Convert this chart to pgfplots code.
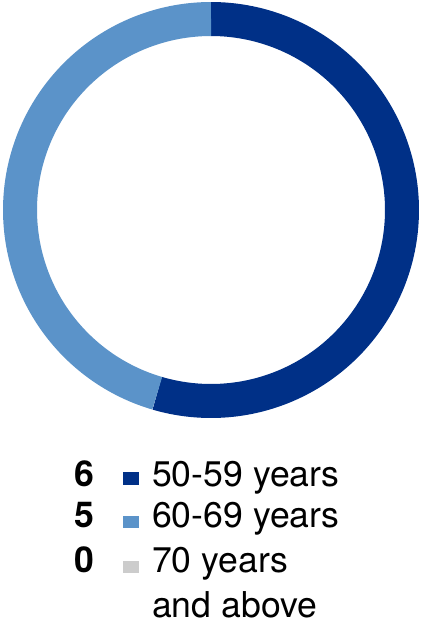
\documentclass[border=0pt]{standalone}
\usepackage{fontspec}
\setmainfont{TeX Gyre Heros}
\usepackage{pgfplots}
\pgfplotsset{compat=1.18}
\definecolor{c1}{HTML}{003087}
\definecolor{c2}{HTML}{5B93C9}
\definecolor{c3}{HTML}{CCCCCC}
% data: number of members per age group
\def\va{6}\def\vb{5}\def\vc{0}
\pgfmathsetmacro{\tot}{\va+\vb+\vc}
\pgfmathsetmacro{\aA}{90}
\pgfmathsetmacro{\aB}{90-360*\va/\tot}
\pgfmathsetmacro{\aC}{\aB-360*\vb/\tot}
\begin{document}
\begin{tikzpicture}
\begin{axis}[width=422bp,height=625bp,scale only axis,hide axis,
  xmin=0,xmax=422,ymin=0,ymax=625,y dir=reverse,clip=false]
\addplot[c1, line width=34bp, domain=\aB:\aA, samples=150] ({211+191*cos(x)},{210-191*sin(x)});
\addplot[c2, line width=34bp, domain=\aC:\aB, samples=150] ({211+191*cos(x)},{210-191*sin(x)});
\path (axis cs:0,0) (axis cs:422,625);
\fontsize{35.6bp}{44bp}\selectfont
\node[anchor=base east,inner sep=0pt] at (axis cs:94,486) {\textbf{\va}};
\node[anchor=base east,inner sep=0pt] at (axis cs:94,527) {\textbf{\vb}};
\node[anchor=base east,inner sep=0pt] at (axis cs:94,572) {\textbf{\vc}};
\fill[c1] (axis cs:123,472) rectangle (axis cs:139,485);
\fill[c2] (axis cs:123,516) rectangle (axis cs:139,528);
\fill[c3] (axis cs:123,561) rectangle (axis cs:139,573);
\node[anchor=base west,inner sep=0pt] at (axis cs:152,486) {50-59 years};
\node[anchor=base west,inner sep=0pt] at (axis cs:152,527) {60-69 years};
\node[anchor=base west,inner sep=0pt] at (axis cs:152,572) {70 years};
\node[anchor=base west,inner sep=0pt] at (axis cs:152,617) {and above};
\end{axis}
\end{tikzpicture}
\end{document}
